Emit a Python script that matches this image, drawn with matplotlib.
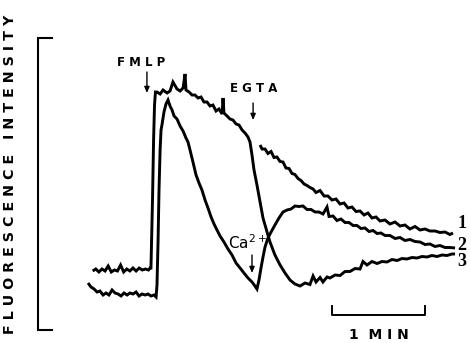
import matplotlib
matplotlib.use("Agg")
import matplotlib.pyplot as plt

# Fluorescence recordings (arbitrary units) vs time (s)
# Trace 3: FMLP stimulation, EGTA added at ~106 s
egta_time = [3, 5, 7, 9, 11, 13, 15, 17, 19, 21, 23, 25, 27, 29, 31, 33, 35, 37, 39, 40,
             40.6, 41.6, 42.3, 42.9, 43.5,
             44.5, 46.5, 48.4, 51, 52.9, 54.8, 57.4, 59.4, 61.3, 62.6, 63.2, 65.2, 67.1, 69,
             71, 72.9, 74.8, 76.8, 78.7, 80.6, 82.6, 84.5, 86.5, 87.1, 87.7, 89.7, 91.6, 93.5,
             95.5, 97.4, 99.4, 101.3, 103.2, 104.5,
             105.8, 107.1, 109, 111, 112.9, 115.5, 117.4, 120.6, 123.9, 127.1, 130.3, 133.5,
             136.8,
             140, 143.2, 145.2, 147.1, 149.7, 151.6, 154.2, 156.1, 159.4, 162.6, 165.8,
             169, 172.3, 175.5, 177.4, 180, 183.2, 186.5, 189.7, 192.9, 196.1, 199.4, 202.6,
             205.8, 209, 212.3, 215.5, 218.7, 221.9, 225.2, 228.4, 231.6, 234.8, 236.8]
egta_signal = [29.5, 30.5, 29, 30.5, 29.5, 32, 29, 30, 29.5, 32.5, 29, 30.5, 29.5, 31, 29.5, 31,
               30, 30.5, 30, 31,
               31, 65, 95, 112.5, 119,
               119, 118, 120, 118.5, 119.5, 124, 120.5, 119.5, 121, 128, 120, 119, 117.5, 117.5,
               116, 116.5, 114, 114, 112, 112.5, 109.5, 110.5, 108, 116, 108.5, 107, 105.5, 105,
               103, 102.5, 100, 98.5, 96.5, 94,
               87.5, 80, 72.5, 64, 56, 49, 44, 37.5, 32.5, 28.5, 25, 23,
               22,
               23.5, 22.75, 27, 24, 26.25, 24, 26.5, 26, 27.5, 27.25, 29.25,
               29.25, 30.75, 30.5, 34.25, 32.5, 34.25, 33.25, 34.25, 34, 35.25, 34.75, 35.75,
               35.5, 36.25, 36, 36.75, 36.5, 37.25, 36.75, 37.5, 37.25, 38, 38]

# Trace 1: control without EGTA (drawn from where it separates from trace 3)
ctrl_time = [111, 112.3, 114.2, 116.1, 118.1, 120, 121.9, 123.9, 125.8, 127.7, 129.7, 131.6,
             133.5, 135.5, 137.4, 139.4, 141.3, 143.2, 145.2, 147.1, 149.7, 152.3, 154.8, 157.4,
             160, 162.6, 165.2, 167.7, 170.3, 172.9, 175.5, 178.1, 180.6, 183.2, 185.8, 188.4,
             191.6, 194.8, 198.1, 201.3, 204.5, 207.7, 211, 214.2, 217.4, 220.6, 223.9, 227.1,
             230.3, 233.5, 235.5]
ctrl_signal = [92.5, 90.5, 90.5, 88.25, 89.25, 86.25, 86.5, 84.25, 84, 81, 80.75, 78.25,
               77.75, 75.75, 74.75, 73, 72.25, 71.25, 70.5, 68.75, 69.75, 67, 67, 65,
               65.5, 63, 63.5, 61, 61.5, 59.25, 59.5, 57.5, 58.5, 56, 56.5, 54.5,
               55, 53, 54, 52, 52.5, 50.5, 51.75, 50, 50.5, 49.5, 49.5, 48.75,
               49, 47.75, 48.5]

# Trace 2: Ca2+-free medium, Ca2+ re-added at ~106 s
ca_time = [0, 1.9, 3.9, 5.8, 7.7, 9.7, 11.6, 13.5, 15.5, 17.4, 19.4, 21.3, 23.2, 25.2, 27.1,
           29, 31, 32.9, 34.8, 36.8, 38.7, 40.6, 42.6, 43.9,
           44.5, 45.2, 45.8, 46.5, 47.1, 47.7, 49, 50.3, 51.6,
           52.9, 54.2, 55.5, 57.4, 59.4, 61.3, 63.2, 64.5, 65.8, 67.7, 69.7, 71.6, 73.5, 75.5,
           77.4, 79.4, 81.3, 83.2, 85.2, 87.7, 90.3, 92.9, 95.5, 98.1, 100.6, 103.2, 105.8,
           107.7, 109,
           110.3, 111.6, 112.9, 114.2, 116.1, 118.1, 120.6, 123.2,
           125.8, 128.4, 131, 133.5, 136.1, 138.7, 141.3, 143.9, 146.5, 149, 151.6, 154.2,
           155.5, 158.1, 160.6, 163.2, 165.8, 168.4, 171, 173.5, 176.1, 178.7, 181.3, 183.9,
           186.5, 189, 191.6, 194.8, 198.1, 201.3, 204.5, 207.7, 211, 214.2, 217.4, 220.6,
           223.9, 227.1, 230.3, 233.5, 236.8]
ca_signal = [23.5, 21.5, 20.5, 19, 19.5, 17.5, 18.5, 17.5, 20, 18.5, 18, 17, 18.5, 17.5, 18.5,
             18, 19, 17, 18, 17.5, 18, 17, 17.5, 16.5,
             22.5, 45, 70, 90, 100, 102.5, 109, 113, 115,
             112, 110, 107, 105.5, 102, 99.5, 96, 94, 90, 84, 77.5, 73.5, 70, 65,
             61, 56.5, 53, 50, 47, 44, 40.5, 37.5, 33.5, 31, 28.5, 26, 24,
             22, 20.5,
             25, 31, 36.5, 41.5, 46, 49, 52.5, 56,
             59, 60, 60.5, 62, 61.75, 62, 60.25, 60.25, 59, 59, 58, 61.5,
             56.75, 57, 54.75, 55.5, 53.75, 53.75, 52.25, 52.25, 50.75, 51, 49.25, 49.75,
             48.25, 48.5, 47.25, 47.25, 45.75, 46.25, 44.75, 45.25, 44.25, 44, 42.75, 43,
             41.75, 42.25, 41.25, 41.25, 41]

trace_labels = ["1", "2", "3"]
trace_ends = [ctrl_signal[-1], ca_signal[-1], egta_signal[-1]]

fmlp_time = 38
egta_add_time = 106.5
ca_add_time = 105.8
scale_seconds = 60
intensity_range = (0, 146)

fig = plt.figure(figsize=(4.71, 3.43), dpi=100)
ax = fig.add_axes([0, 0, 1, 1])
ax.set_xlim(-56.8, 247.1)
ax.set_ylim(-6.5, 165)
ax.axis("off")

trace_style = dict(color="black", lw=2.1, solid_joinstyle="miter", solid_capstyle="butt")
ax.plot(egta_time, egta_signal, **trace_style)
ax.plot(ctrl_time, ctrl_signal, **trace_style)
ax.plot(ca_time, ca_signal, **trace_style)

# Trace numbers at the right-hand ends
for lab, yv, off in zip(trace_labels, trace_ends, [5, 1.5, -3.5]):
    ax.text(238.5, yv + off, lab, fontsize=13, fontweight="bold",
            family="Liberation Serif", ha="left", va="center")

# Intensity bracket (no numeric scale)
bx = -32.3
ax.plot([bx + 9, bx, bx, bx + 9],
        [intensity_range[0], intensity_range[0], intensity_range[1], intensity_range[1]],
        color="black", lw=1.5, solid_joinstyle="miter")
ax.text(-50.5, (intensity_range[0] + intensity_range[1]) / 2 + 5,
        "F L U O R E S C E N C E   I N T E N S I T Y",
        rotation=90, fontsize=10.3, fontweight="heavy", ha="center", va="center")

# Time scale bar
sb0, sb1, sby = 157.4, 157.4 + scale_seconds, 7.5
ax.plot([sb0, sb0, sb1, sb1], [sby + 4.5, sby, sby, sby + 4.5], color="black", lw=1.4)
ax.text((sb0 + sb1) / 2, -2.5, "1  M I N", fontsize=10, fontweight="bold",
        ha="center", va="center")

# Additions
arrow = dict(arrowstyle="-|>,head_length=0.35,head_width=0.15", color="black", lw=1.0,
             shrinkA=0, shrinkB=0)
ax.annotate("", xy=(fmlp_time, 118.5), xytext=(fmlp_time, 129), arrowprops=arrow)
ax.text(fmlp_time - 4, 133.5, "F M L P", fontsize=8.5, fontweight="bold", ha="center", va="center")
ax.annotate("", xy=(egta_add_time, 105), xytext=(egta_add_time, 113.5), arrowprops=arrow)
ax.text(egta_add_time + 0.5, 121, "E G T A", fontsize=8.5, fontweight="bold", ha="center", va="center")
ax.annotate("", xy=(ca_add_time, 28.5), xytext=(ca_add_time, 37.5), arrowprops=arrow)
ax.text(90.3, 43.5, r"Ca$^{2+}$", fontsize=11, ha="left", va="center")

fig.savefig("out.png", dpi=100)
